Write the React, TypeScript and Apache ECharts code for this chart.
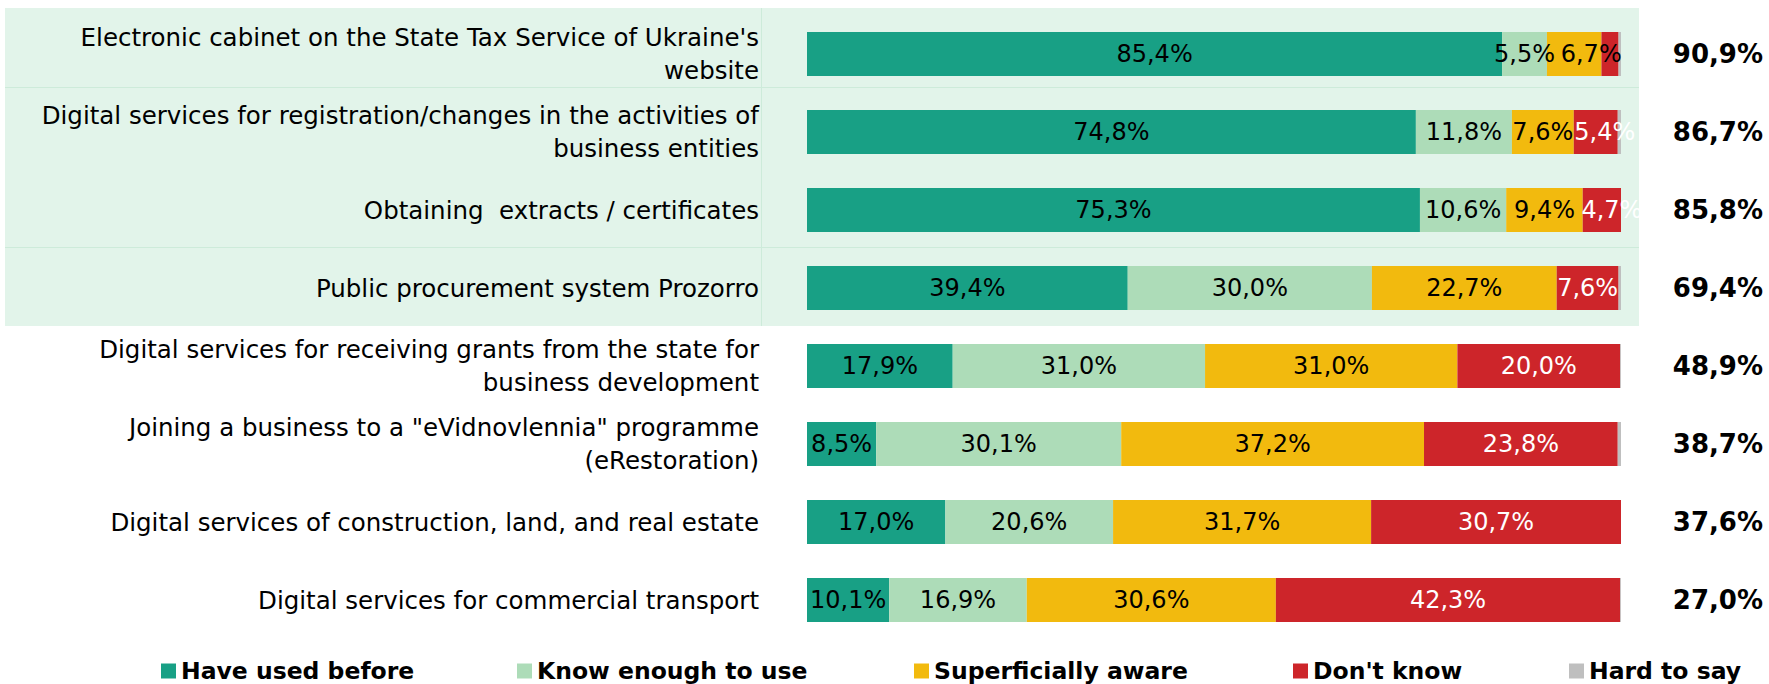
import React, { useEffect, useRef } from "react";
import * as echarts from "echarts";

const categories = [
  "Electronic cabinet on the State Tax Service of Ukraine's\nwebsite",
  "Digital services for registration/changes in the activities of\nbusiness entities",
  "Obtaining  extracts / certificates",
  "Public procurement system Prozorro",
  "Digital services for receiving grants from the state for\nbusiness development",
  "Joining a business to a \"eVidnovlennia\" programme\n(eRestoration)",
  "Digital services of construction, land, and real estate",
  "Digital services for commercial transport",
];

const seriesNames = [
  "Have used before",
  "Know enough to use",
  "Superficially aware",
  "Don't know",
  "Hard to say",
];

const haveUsed = [85.4, 74.8, 75.3, 39.4, 17.9, 8.5, 17.0, 10.1];
const knowEnough = [5.5, 11.8, 10.6, 30.0, 31.0, 30.1, 20.6, 16.9];
const superficial = [6.7, 7.6, 9.4, 22.7, 31.0, 37.2, 31.7, 30.6];
const dontKnow = [2.1, 5.4, 4.7, 7.6, 20.0, 23.8, 30.7, 42.3];
const hardToSay = [0.3, 0.4, 0.0, 0.3, 0.1, 0.4, 0.0, 0.1];
const totals = [90.9, 86.7, 85.8, 69.4, 48.9, 38.7, 37.6, 27.0];

const colors = ["#18A085", "#ADDCB8", "#F2BA0E", "#CD252A", "#BFBFBF"];
const labelColors = ["#000000", "#000000", "#000000", "#FFFFFF", "#000000"];
const legendLefts = [161, 517, 914, 1293, 1569];
// horizontal nudges of crowded labels (series index - row index -> px)
const labelNudges: Record<string, number> = { "2-0": 17, "3-1": 9, "3-2": 10 };

const FONT = "'DejaVu Sans', Verdana, sans-serif";
const fmt = (v: number) => v.toFixed(1).replace(".", ",") + "%";

export default function App() {
  const ref = useRef<HTMLDivElement>(null);
  useEffect(() => {
    if (!ref.current) return;
    const chart = echarts.init(ref.current, null, { renderer: "svg" });
    const values = [haveUsed, knowEnough, superficial, dontKnow, hardToSay];
    const series = values.map((data, i) => ({
      name: seriesNames[i],
      type: "bar",
      stack: "total",
      barWidth: 44,
      yAxisIndex: 0,
      data: data.map((v, j) => {
        const dx = labelNudges[`${i}-${j}`];
        return dx ? { value: v, label: { offset: [dx, 0] } } : v;
      }),
      itemStyle: { color: colors[i] },
      label: {
        show: i < 4,
        position: "inside",
        color: labelColors[i],
        fontFamily: FONT,
        fontSize: 24,
        formatter: (p: any) => (p.value >= 3 ? fmt(p.value) : ""),
      },
      emphasis: { disabled: true },
    }));
    const option: any = {
      animation: false,
      textStyle: { fontFamily: FONT },
      grid: { left: 807, right: 148, top: 15, bottom: 45 },
      xAxis: { type: "value", min: 0, max: 100, show: false },
      yAxis: [
        {
          type: "category",
          inverse: true,
          data: categories,
          axisLine: { show: false },
          axisTick: { show: false },
          splitLine: { show: false },
          axisLabel: {
            margin: 48,
            fontFamily: FONT,
            fontSize: 24.5,
            lineHeight: 33,
            color: "#000000",
            align: "right",
          },
        },
        {
          type: "category",
          inverse: true,
          position: "right",
          data: totals.map(fmt),
          axisLine: { show: false },
          axisTick: { show: false },
          splitLine: { show: false },
          axisLabel: {
            margin: 142,
            align: "right",
            fontFamily: FONT,
            fontSize: 26,
            fontWeight: "bold",
            color: "#000000",
          },
        },
      ],
      legend: seriesNames.map((n, i) => ({
        data: [n],
        left: legendLefts[i],
        top: 656,
        padding: 0,
        itemWidth: 15,
        itemHeight: 15,
        icon: "rect",
        selectedMode: false,
        textStyle: {
          fontFamily: FONT,
          fontSize: 23.5,
          fontWeight: "bold",
          color: "#000000",
          lineHeight: 30,
        },
      })),
      graphic: [
        {
          type: "rect",
          z: -10,
          shape: { x: 5, y: 8, width: 1634, height: 318 },
          style: { fill: "#E2F4EA" },
        },
        {
          type: "line",
          z: -9,
          shape: { x1: 5, y1: 87.5, x2: 1639, y2: 87.5 },
          style: { stroke: "#CDEBDA", lineWidth: 1 },
        },
        {
          type: "line",
          z: -9,
          shape: { x1: 5, y1: 247.5, x2: 1639, y2: 247.5 },
          style: { stroke: "#CDEBDA", lineWidth: 1 },
        },
        {
          type: "line",
          z: -9,
          shape: { x1: 761.5, y1: 8, x2: 761.5, y2: 326 },
          style: { stroke: "#CDEBDA", lineWidth: 1 },
        },
      ],
      series,
    };
    chart.setOption(option);
    return () => chart.dispose();
  }, []);
  return (
    <div
      ref={ref}
      style={{ position: "fixed", left: 0, top: 0, width: 1769, height: 684, background: "#ffffff" }}
    />
  );
}
